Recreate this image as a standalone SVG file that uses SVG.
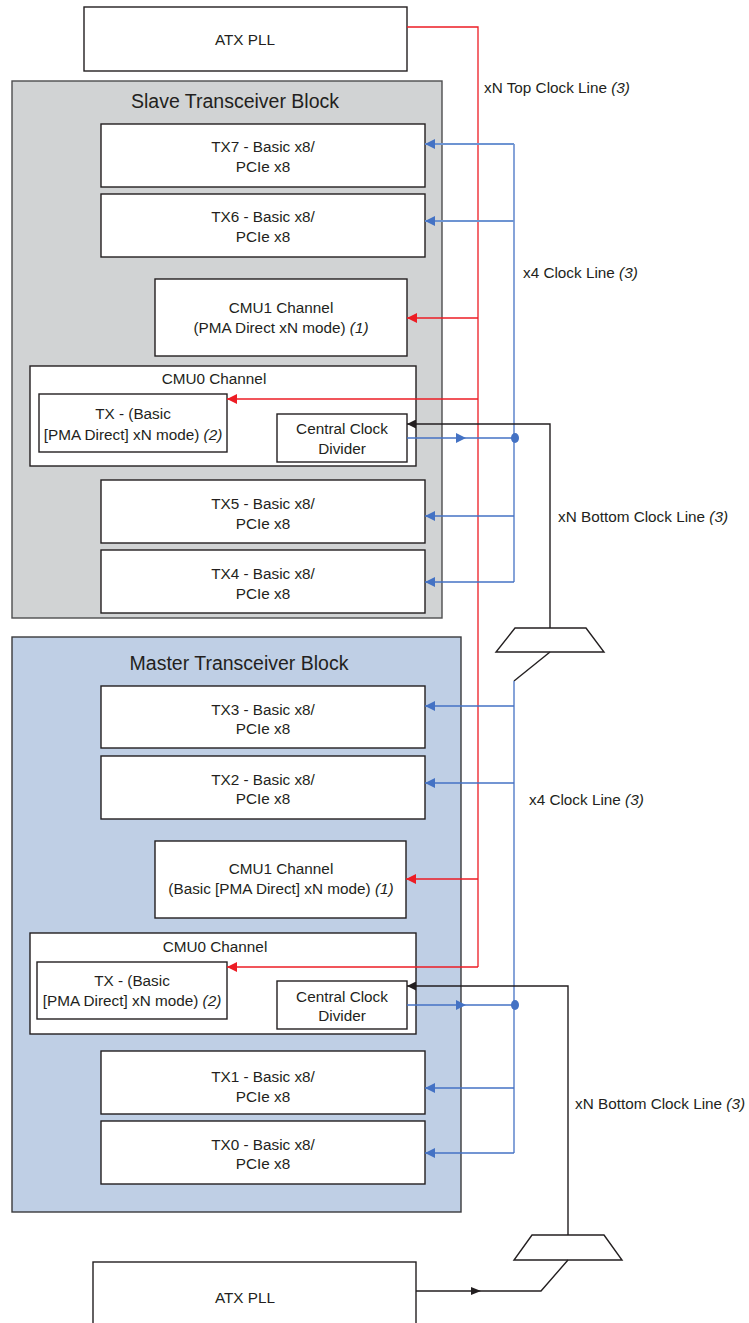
<svg xmlns="http://www.w3.org/2000/svg" width="749" height="1323" viewBox="0 0 749 1323">
<style>
text{font-family:"Liberation Sans",Arial,sans-serif;fill:#231f20;font-size:15.3px}
.c{text-anchor:middle}
.t{font-size:19.5px}
.i{font-style:italic}
.box{fill:#fff;stroke:#231f20;stroke-width:1.4}
.slave{fill:#d1d3d4;stroke:#4d4d4f;stroke-width:1.4}
.master{fill:#bfcfe5;stroke:#3a3a3c;stroke-width:1.4}
.red{stroke:#ed1c24;stroke-width:1.3;fill:none}
.blue{stroke:#4472c4;stroke-width:1.3;fill:none}
.bluea{stroke:#6d94d2;stroke-width:1.8;fill:none}
.blk{stroke:#231f20;stroke-width:1.4;fill:none}
</style>
<defs>
<marker id="ar" viewBox="0 0 10 10" refX="10" refY="5" markerWidth="10" markerHeight="10" markerUnits="userSpaceOnUse" orient="auto"><path d="M0,0L10,5L0,10z" fill="#ed1c24"/></marker>
<marker id="ab" viewBox="0 0 10 10" refX="10" refY="5" markerWidth="10" markerHeight="10" markerUnits="userSpaceOnUse" orient="auto"><path d="M0,0L10,5L0,10z" fill="#4472c4"/></marker>
<marker id="ak" viewBox="0 0 10 10" refX="10" refY="5" markerWidth="9" markerHeight="9" markerUnits="userSpaceOnUse" orient="auto"><path d="M0,0L10,5L0,10z" fill="#231f20"/></marker>
</defs>

<g id="atx-top"><rect class="box" x="84" y="7" width="323" height="64"/><text class="c" x="245" y="45">ATX PLL</text></g>

<g id="slave-block"><rect class="slave" x="12" y="81" width="430" height="537"/><text class="c t" x="235" y="108">Slave Transceiver Block</text></g>
<g id="tx7"><rect class="box" x="101" y="124" width="324" height="63"/><text class="c" x="263" y="152">TX7 - Basic x8/</text><text class="c" x="263" y="172">PCIe x8</text></g>
<g id="tx6"><rect class="box" x="101" y="194" width="324" height="63"/><text class="c" x="263" y="222">TX6 - Basic x8/</text><text class="c" x="263" y="242">PCIe x8</text></g>
<g id="cmu1-slave"><rect class="box" x="155" y="279" width="252" height="77"/><text class="c" x="281" y="313">CMU1 Channel</text><text class="c" x="281" y="333">(PMA Direct xN mode) <tspan class="i">(1)</tspan></text></g>
<g id="cmu0-slave"><rect class="box" x="30" y="366" width="386" height="100"/><text class="c" x="214" y="384">CMU0 Channel</text></g>
<g id="tx-slave"><rect class="box" x="39" y="394" width="188" height="58"/><text class="c" x="133" y="419">TX - (Basic</text><text class="c" x="133" y="440">[PMA Direct] xN mode) <tspan class="i">(2)</tspan></text></g>
<g id="ccd-slave"><rect class="box" x="277" y="414" width="130" height="48"/><text class="c" x="342" y="434">Central Clock</text><text class="c" x="342" y="454">Divider</text></g>
<g id="tx5"><rect class="box" x="101" y="480" width="324" height="63"/><text class="c" x="263" y="509">TX5 - Basic x8/</text><text class="c" x="263" y="529">PCIe x8</text></g>
<g id="tx4"><rect class="box" x="101" y="550" width="324" height="63"/><text class="c" x="263" y="579">TX4 - Basic x8/</text><text class="c" x="263" y="599">PCIe x8</text></g>

<g id="master-block"><rect class="master" x="12" y="637" width="449" height="575"/><text class="c t" x="239" y="670">Master Transceiver Block</text></g>
<g id="tx3"><rect class="box" x="101" y="686" width="324" height="62"/><text class="c" x="263" y="715">TX3 - Basic x8/</text><text class="c" x="263" y="734">PCIe x8</text></g>
<g id="tx2"><rect class="box" x="101" y="756" width="324" height="63"/><text class="c" x="263" y="785">TX2 - Basic x8/</text><text class="c" x="263" y="804">PCIe x8</text></g>
<g id="cmu1-master"><rect class="box" x="155" y="841" width="251" height="77"/><text class="c" x="281" y="874">CMU1 Channel</text><text class="c" x="281" y="894">(Basic [PMA Direct] xN mode) <tspan class="i">(1)</tspan></text></g>
<g id="cmu0-master"><rect class="box" x="30" y="933" width="386" height="101"/><text class="c" x="215" y="952">CMU0 Channel</text></g>
<g id="tx-master"><rect class="box" x="37" y="962" width="190" height="57"/><text class="c" x="132" y="986">TX - (Basic</text><text class="c" x="132" y="1006">[PMA Direct] xN mode) <tspan class="i">(2)</tspan></text></g>
<g id="ccd-master"><rect class="box" x="277" y="981" width="130" height="48"/><text class="c" x="342" y="1002">Central Clock</text><text class="c" x="342" y="1021">Divider</text></g>
<g id="tx1"><rect class="box" x="101" y="1051" width="324" height="63"/><text class="c" x="263" y="1082">TX1 - Basic x8/</text><text class="c" x="263" y="1102">PCIe x8</text></g>
<g id="tx0"><rect class="box" x="101" y="1121" width="324" height="63"/><text class="c" x="263" y="1150">TX0 - Basic x8/</text><text class="c" x="263" y="1169">PCIe x8</text></g>

<g id="atx-bottom"><rect class="box" x="93" y="1262" width="323" height="70"/><text class="c" x="245" y="1303">ATX PLL</text></g>

<g id="mux-top"><path class="blk" d="M515,628H586L604,652H496Z" fill="#fff"/></g>
<g id="mux-bottom"><path class="blk" d="M532,1235H604L622,1260H514Z" fill="#fff"/></g>

<g id="connectors">
<polyline class="red" points="407,27 478,27 478,967"/>
<line class="red" x1="478" y1="318" x2="407" y2="318" marker-end="url(#ar)"/>
<line class="red" x1="478" y1="399" x2="227" y2="399" marker-end="url(#ar)"/>
<line class="red" x1="478" y1="879" x2="406" y2="879" marker-end="url(#ar)"/>
<line class="red" x1="478" y1="967" x2="227" y2="967" marker-end="url(#ar)"/>

<line class="blue" x1="514" y1="144" x2="514" y2="582"/>
<line class="bluea" x1="514" y1="144" x2="425" y2="144" marker-end="url(#ab)"/>
<line class="bluea" x1="514" y1="221" x2="425" y2="221" marker-end="url(#ab)"/>
<line class="blue" x1="514" y1="516" x2="425" y2="516" marker-end="url(#ab)"/>
<line class="blue" x1="514" y1="582" x2="425" y2="582" marker-end="url(#ab)"/>
<line class="blue" x1="407" y1="438" x2="514" y2="438"/>
<path d="M456,433L466,438L456,443z" fill="#4472c4"/>
<ellipse cx="515" cy="438" rx="4" ry="5" fill="#4472c4"/>

<polyline class="blk" points="550,628 550,424 407,424" marker-end="url(#ak)"/>
<polyline class="blk" points="550,652 514,681"/>
<line class="blue" x1="514" y1="681" x2="514" y2="1153"/>
<line class="blue" x1="514" y1="706" x2="425" y2="706" marker-end="url(#ab)"/>
<line class="blue" x1="514" y1="783" x2="425" y2="783" marker-end="url(#ab)"/>
<line class="blue" x1="514" y1="1088" x2="425" y2="1088" marker-end="url(#ab)"/>
<line class="blue" x1="514" y1="1153" x2="425" y2="1153" marker-end="url(#ab)"/>
<line class="blue" x1="407" y1="1005" x2="514" y2="1005"/>
<path d="M456,1000L466,1005L456,1010z" fill="#4472c4"/>
<ellipse cx="515" cy="1005" rx="4" ry="5" fill="#4472c4"/>

<polyline class="blk" points="568,1235 568,986 407,986" marker-end="url(#ak)"/>
<polyline class="blk" points="568,1260 541,1291 416,1291"/>
<path d="M471,1287L481,1291L471,1295z" fill="#231f20"/>
</g>

<g id="labels">
<text x="484" y="93">xN Top Clock Line <tspan class="i">(3)</tspan></text>
<text x="523" y="278">x4 Clock Line <tspan class="i">(3)</tspan></text>
<text x="558" y="522">xN Bottom Clock Line <tspan class="i">(3)</tspan></text>
<text x="529" y="805">x4 Clock Line <tspan class="i">(3)</tspan></text>
<text x="575" y="1109">xN Bottom Clock Line <tspan class="i">(3)</tspan></text>
</g>
</svg>
